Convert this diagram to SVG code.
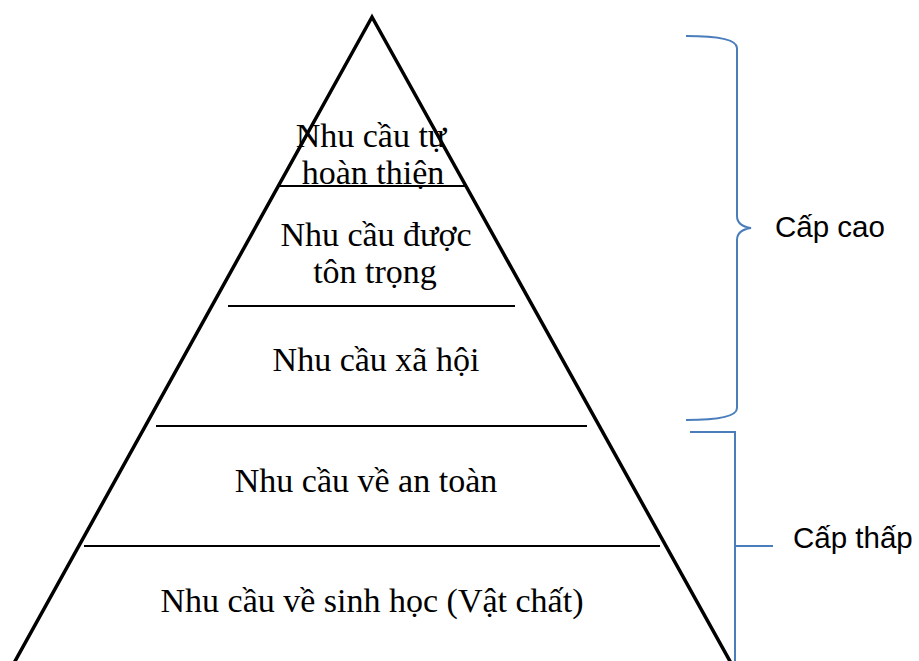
<svg xmlns="http://www.w3.org/2000/svg" width="919" height="661" viewBox="0 0 919 661">
<style>
.edge{stroke:#000;stroke-width:3.5;fill:none}
.div{stroke:#000;stroke-width:2;fill:none}
.br{stroke:#4a7ebb;stroke-width:2;fill:none}
.t{font-family:"Liberation Serif","Times New Roman",serif;font-size:34px;fill:#000;text-anchor:middle}
.s{font-family:"Liberation Sans",Arial,sans-serif;font-size:29.5px;fill:#000}
</style>
<rect width="919" height="661" fill="#fff"/>
<g id="pyramid">
<path class="edge" d="M14,663 L372,17 L731,663"/>
</g>
<g id="connectors">
<line class="div" x1="277" y1="186" x2="466" y2="186"/>
<line class="div" x1="228" y1="306" x2="515" y2="306"/>
<line class="div" x1="156" y1="426" x2="587" y2="426"/>
<line class="div" x1="84" y1="546" x2="660" y2="546"/>
<path class="br" d="M686,36 Q737,36 737,48 L737,216 Q737,226 751,228 Q737,230 737,240 L737,408 Q737,420 686,420"/>
<path class="br" d="M690,432 L735,432 L735,661 M735,546 L773,546"/>
</g>
<g id="level5"><text class="t" x="371" y="147">Nhu cầu tự</text><text class="t" x="373" y="184">hoàn thiện</text></g>
<g id="level4"><text class="t" x="376" y="246">Nhu cầu được</text><text class="t" x="375" y="283">tôn trọng</text></g>
<g id="level3"><text class="t" x="376" y="371">Nhu cầu xã hội</text></g>
<g id="level2"><text class="t" x="366" y="492">Nhu cầu về an toàn</text></g>
<g id="level1"><text class="t" x="372" y="612">Nhu cầu về sinh học (Vật chất)</text></g>
<g id="cap-cao"><text class="s" x="775" y="237">Cấp cao</text></g>
<g id="cap-thap"><text class="s" x="793" y="548">Cấp thấp</text></g>
</svg>
